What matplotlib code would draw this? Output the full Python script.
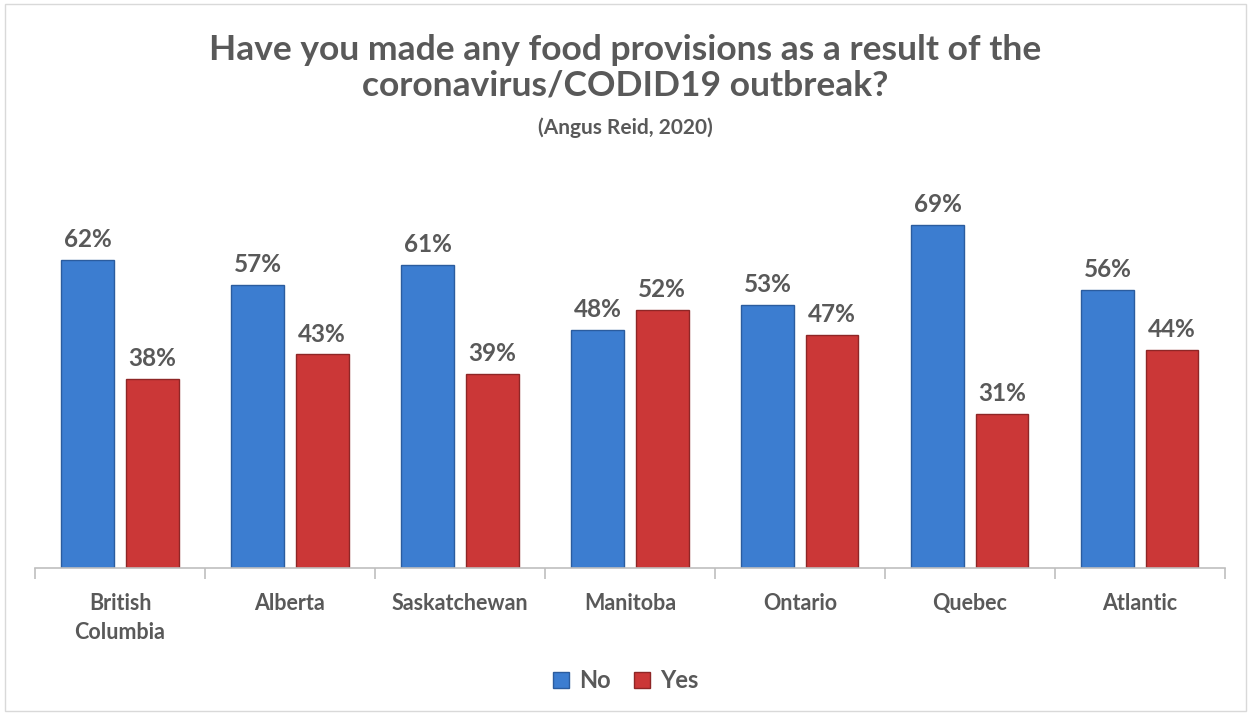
import matplotlib
matplotlib.use("Agg")
import matplotlib.pyplot as plt
import numpy as np

regions = ["British\nColumbia", "Alberta", "Saskatchewan", "Manitoba", "Ontario", "Quebec", "Atlantic"]
no_vals = [62, 57, 61, 48, 53, 69, 56]
yes_vals = [38, 43, 39, 52, 47, 31, 44]

plt.rcParams['font.family'] = ['Lato', 'DejaVu Sans']
grey = '#595959'

fig = plt.figure(figsize=(12.51, 7.15), dpi=100)
ax = fig.add_axes([0.028, 0.2056, 0.951, 0.55])

x = np.arange(len(regions))
w = 0.31
off = 0.19
b1 = ax.bar(x - off, no_vals, w, color='#3C7DD0', edgecolor='#2B5C9E', linewidth=1, label='No')
b2 = ax.bar(x + off, yes_vals, w, color='#CB3737', edgecolor='#8E2626', linewidth=1, label='Yes')

for bars, vals in ((b1, no_vals), (b2, yes_vals)):
    for b, v in zip(bars, vals):
        ax.text(b.get_x() + b.get_width() / 2, v + 1.8, f"{v}%", ha='center', va='bottom',
                fontsize=17.5, fontweight='bold', color=grey)

ax.set_xlim(-0.5, len(regions) - 0.5)
ax.set_ylim(0, 79.2)
ax.set_yticks([])
for s in ['top', 'right', 'left']:
    ax.spines[s].set_visible(False)
ax.spines['bottom'].set_color('#BFBFBF')
ax.spines['bottom'].set_linewidth(1.2)
ax.set_xticks(np.arange(len(regions) + 1) - 0.5, minor=True)
ax.set_xticks(x)
ax.set_xticklabels(regions, fontsize=15.5, fontweight='bold', color=grey, linespacing=1.45)
ax.tick_params(axis='x', which='major', length=0, pad=18)
ax.tick_params(axis='x', which='minor', length=8, color='#BFBFBF', width=1.2)

fig.text(0.5, 0.9056, "Have you made any food provisions as a result of the\ncoronavirus/CODID19 outbreak?",
         ha='center', va='center', fontsize=25.5, fontweight='bold', color=grey, linespacing=1.15)
fig.text(0.5, 0.821, "(Angus Reid, 2020)", ha='center', va='center', fontsize=15, fontweight='bold', color=grey)

fig.legend(handles=[b1, b2], labels=['No', 'Yes'], loc='center', bbox_to_anchor=(0.5, 0.048), ncol=2,
           frameon=False, prop={'size': 17, 'weight': 'bold'}, handlelength=0.7, handleheight=0.7,
           handletextpad=0.4, columnspacing=1.0, labelcolor=grey)

fig.patches.append(plt.Rectangle((0.004, 0.006), 0.992, 0.988, transform=fig.transFigure,
                                 fill=False, edgecolor='#D9D9D9', linewidth=1))

fig.savefig("out.png", dpi=100)
